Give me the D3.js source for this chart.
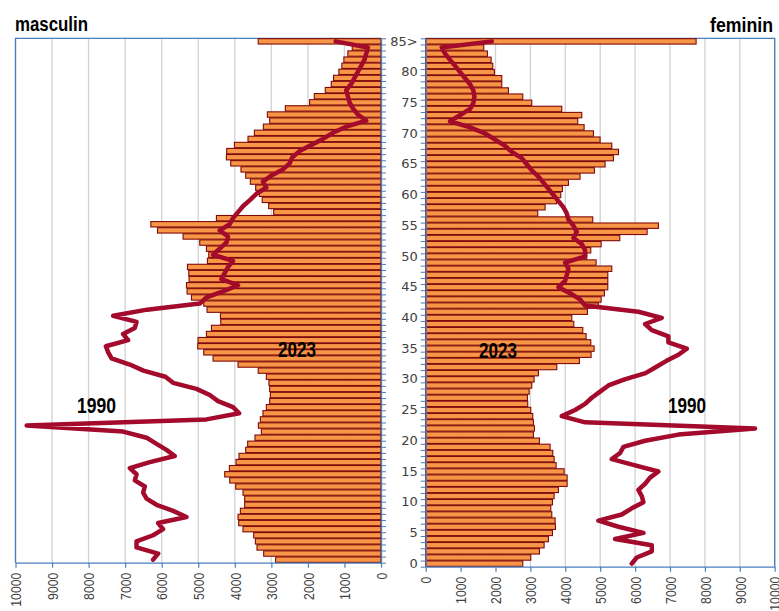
<!DOCTYPE html>
<html>
<head>
<meta charset="utf-8">
<script src="https://cdn.jsdelivr.net/npm/d3@7"></script>
<style>
body { margin: 0; background: #fff; }
svg { display: block; }
</style>
</head>
<body>
<svg id="chart" width="779" height="611"></svg>
<script>
// ages 0..85, the last one is "85>"
const ages = d3.range(0, 86)
const ageTicks = [0, 5, 10, 15, 20, 25, 30, 35, 40, 45, 50, 55, 60, 65, 70, 75, 80, 85]
const valueTicks = [0, 1000, 2000, 3000, 4000, 5000, 6000, 7000, 8000, 9000, 10000]

// masculin, age 0 -> 85>
const male2023 = [2883, 3210, 3393, 3437, 3484, 3776, 3893, 3912, 3847, 3730,
	3730, 3776, 3975, 4139, 4276, 4148, 3967, 3885, 3702, 3648,
	3448, 3274, 3355, 3301, 3230, 3137, 3046, 3027, 3046, 3066,
	3137, 3360, 3912, 4595, 4850, 5014, 5005, 4776, 4639, 4385,
	4393, 4759, 4850, 5186, 5306, 5322, 5251, 5260, 5295, 4749,
	4713, 4776, 4959, 5415, 6115, 6298, 4503, 2937, 3074, 3250,
	3328, 3429, 3574, 3702, 3831, 4112, 4230, 4221, 4011, 3639,
	3464, 3219, 3046, 3109, 2618, 1954, 1825, 1525, 1361, 1298,
	1153, 1071, 1016, 907, 787, 3360]
const male1990 = [6235, 6097, 6689, 6689, 6235, 5962, 6097, 5322, 5688, 6142,
	6415, 6508, 6462, 6735, 6689, 6872, 6325, 5642, 5869, 6142,
	6415, 7055, 9694, 4776, 3880, 4049, 4459, 4686, 5049, 5688,
	5900, 6500, 6872, 7372, 7464, 7527, 6918, 7055, 6735, 6689,
	7328, 6400, 4959, 4776, 4322, 3912, 4366, 4276, 4186, 4049,
	4595, 4413, 4230, 4186, 4413, 4139, 4049, 3912, 3770, 3580,
	3410, 3137, 3230, 3000, 2683, 2500, 2426, 2227, 1907, 1590,
	1317, 951, 404, 634, 770, 861, 907, 951, 814, 724,
	634, 541, 451, 404, 360, 1240]

// feminin, age 0 -> 85>
const female2023 = [2782, 3011, 3259, 3393, 3517, 3632, 3718, 3708, 3613, 3584,
	3632, 3680, 3803, 4052, 4052, 3966, 3737, 3680, 3641, 3565,
	3259, 3087, 3116, 3087, 3068, 3011, 2924, 2915, 2963, 3039,
	3106, 3230, 3756, 4405, 4739, 4825, 4730, 4596, 4501, 4244,
	4186, 4634, 4949, 5026, 5121, 5218, 5218, 5218, 5332, 4883,
	4616, 4730, 5026, 5561, 6344, 6668, 4787, 3211, 3421, 3750,
	3870, 3917, 4090, 4424, 4834, 5140, 5380, 5523, 5332, 4997,
	4806, 4539, 4357, 4472, 3899, 3039, 2782, 2371, 2180, 2180,
	1969, 1922, 1874, 1769, 1664, 7748]
const female1990 = [5904, 6049, 6478, 6478, 5427, 6239, 5523, 4949, 5618, 5904,
	6239, 6191, 6094, 6286, 6430, 6668, 6000, 5332, 5570, 5665,
	6286, 7241, 9438, 4567, 3899, 4280, 4567, 4759, 4997, 5236,
	5700, 6300, 6600, 6900, 7241, 7481, 6954, 6954, 6478, 6286,
	6764, 6094, 4567, 4424, 4137, 3803, 3994, 4042, 4090, 3994,
	4567, 4567, 4472, 4233, 4328, 4233, 4090, 4042, 3946, 3803,
	3660, 3517, 3373, 3230, 3039, 2896, 2753, 2466, 2275, 1988,
	1702, 1272, 699, 986, 1272, 1367, 1396, 1367, 1272, 1129,
	986, 842, 699, 556, 461, 1893]

const axisColor = '#4a7ebb'
const gridColor = '#d4d4d4'
const barFill = '#f79646'
const barStroke = '#800a0a'
const lineColor = '#a30a2c'
const labelColor = '#404040'
const sans = "'Liberation Sans', Arial, sans-serif"

const svg = d3.select('#chart')
const catLabel = a => a === 85 ? '85>' : String(a)

// two panels, they are not quite the same height
const L = {left: 15.5, right: 381, top: 38.3, bottom: 562.7}
const R = {left: 425.7, right: 774.7, top: 38.3, bottom: 566.7}

var xL = d3.scaleLinear().domain([0, 10000]).range([L.right, L.left])
var xR = d3.scaleLinear().domain([0, 10000]).range([R.left, R.right])
var yL = d3.scaleBand().domain(ages.slice().reverse()).range([L.top, L.bottom]).paddingInner(0.12).paddingOuter(0.06)
var yR = d3.scaleBand().domain(ages.slice().reverse()).range([R.top, R.bottom]).paddingInner(0.12).paddingOuter(0.06)
// linear helpers for the category tick marks (between categories)
var yLt = d3.scaleLinear().domain([0, 86]).range([L.bottom, L.top])
var yRt = d3.scaleLinear().domain([0, 86]).range([R.bottom, R.top])

function drawPanel (p, x, y, yt, men, bars, line) {
	const g = svg.append('g')
	// gridlines
	g.selectAll('.grid')
		.data(valueTicks.slice(1))
		.enter()
		.append('line')
		.attr('x1', d => x(d)).attr('x2', d => x(d))
		.attr('y1', p.top).attr('y2', p.bottom)
		.style('stroke', gridColor)
		.style('stroke-width', 1.4)
	// outer frame (top and far side)
	const far = men ? p.left : p.right
	g.append('path')
		.attr('d', 'M' + far + ',' + p.bottom + 'V' + p.top + 'H' + (men ? p.right : p.left))
		.style('fill', 'none')
		.style('stroke', axisColor)
		.style('stroke-width', 1.3)

	// 2023 bars
	g.selectAll('rect.bar')
		.data(ages)
		.enter()
		.append('rect')
		.attr('class', 'bar')
		.attr('x', a => Math.min(x(0), x(bars[a])))
		.attr('y', a => y(a))
		.attr('width', a => Math.abs(x(bars[a]) - x(0)))
		.attr('height', y.bandwidth())
		.style('fill', barFill)
		.style('stroke', barStroke)
		.style('stroke-width', 1.1)

	// 1990 line
	const ln = d3.line()
		.x(a => x(line[a]))
		.y(a => y(a) + y.bandwidth() / 2)
	g.append('path')
		.datum(ages)
		.attr('d', ln)
		.style('fill', 'none')
		.style('stroke', lineColor)
		.style('stroke-width', 4.5)
		.style('stroke-linejoin', 'round')
		.style('stroke-linecap', 'round')

	// value axis at bottom, labels turned and squeezed like the original
	const ax = g.append('g')
		.attr('transform', 'translate(0,' + p.bottom + ')')
		.call(d3.axisBottom(x).tickValues(valueTicks).tickSize(5).tickSizeOuter(0).tickFormat(d3.format('d')))
	ax.select('.domain').style('stroke', axisColor).style('stroke-width', 1.3)
	ax.selectAll('.tick line').style('stroke', axisColor).style('stroke-width', 1.2)
	ax.selectAll('.tick text')
		.attr('transform', 'rotate(-90)')
		.attr('text-anchor', 'end')
		.attr('x', -10)
		.attr('y', 0)
		.attr('dy', '0.35em')
		.attr('textLength', d => String(d).length * 6.8)
		.attr('lengthAdjust', 'spacingAndGlyphs')
		.style('font-family', sans)
		.style('font-size', '15px')
		.style('fill', labelColor)

	// category axis, ticks between ages
	const catAxis = men ? d3.axisRight(yt) : d3.axisLeft(yt)
	const ay = g.append('g')
		.attr('transform', 'translate(' + x(0) + ',0)')
		.call(catAxis.tickValues(d3.range(0, 87)).tickSize(5).tickSizeOuter(0).tickFormat(''))
	ay.select('.domain').style('stroke', axisColor).style('stroke-width', 1.3)
	ay.selectAll('.tick line').style('stroke', axisColor).style('stroke-width', 1)
	return g
}

drawPanel(L, xL, yL, yLt, true, male2023, male1990)
const gr = drawPanel(R, xR, yR, yRt, false, female2023, female1990)

// age labels sit left of the feminin axis
const lab = gr.append('g')
	.attr('transform', 'translate(' + R.left + ',0)')
	.call(d3.axisLeft(yR).tickValues(ageTicks).tickSize(0).tickPadding(8).tickFormat(catLabel))
lab.select('.domain').remove()
lab.selectAll('text')
	.style('font-family', "'DejaVu Sans', Verdana, sans-serif")
	.style('font-size', '13px')
	.style('fill', labelColor)

// titles and series labels (the original font is a condensed bold)
const texts = [
	{t: 'masculin', x: 15, y: 31, a: 'start', s: 20, w: 73},
	{t: 'feminin', x: 710, y: 32, a: 'start', s: 20, w: 63},
	{t: '1990', x: 77, y: 413, a: 'start', s: 22, w: 39},
	{t: '2023', x: 278, y: 357, a: 'start', s: 22, w: 38},
	{t: '2023', x: 479, y: 358, a: 'start', s: 22, w: 38},
	{t: '1990', x: 668, y: 413, a: 'start', s: 22, w: 38}
]
svg.selectAll('.lbl')
	.data(texts)
	.enter()
	.append('text')
	.attr('class', 'lbl')
	.attr('x', d => d.x)
	.attr('y', d => d.y)
	.attr('text-anchor', d => d.a)
	.attr('textLength', d => d.w)
	.attr('lengthAdjust', 'spacingAndGlyphs')
	.style('font-family', sans)
	.style('font-weight', 'bold')
	.style('font-size', d => d.s + 'px')
	.style('fill', '#000')
	.text(d => d.t)
</script>
</body>
</html>
